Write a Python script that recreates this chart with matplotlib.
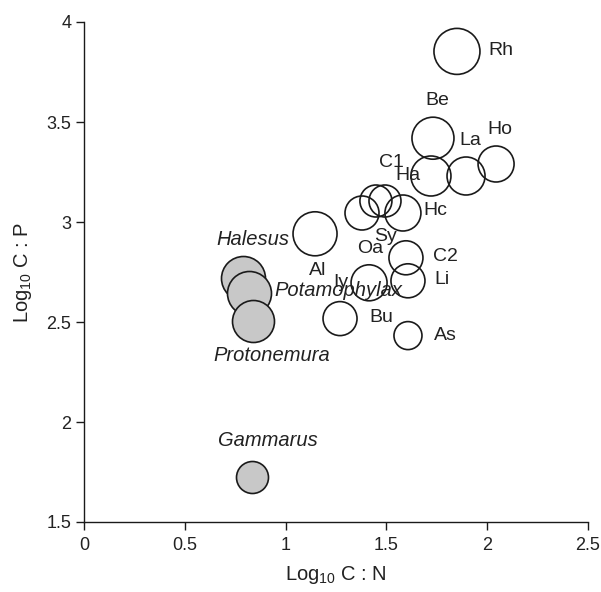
import matplotlib.pyplot as plt
import numpy as np

plt.rcParams["font.family"] = ["Liberation Sans", "DejaVu Sans"]
plt.rcParams["mathtext.fontset"] = "custom"
plt.rcParams["mathtext.rm"] = "Liberation Sans"

# taxa, log10 C:N, log10 C:P, bubble radius (px)
taxa = ["Rh", "Be", "Ha", "La", "Ho", "Oa", "C1", "Sy", "Hc", "Al",
        "C2", "Li", "Iy", "Bu", "As",
        "Halesus", "Potamophylax", "Protonemura", "Gammarus"]
log_cn = [1.850, 1.731, 1.721, 1.895, 2.044, 1.379, 1.448, 1.493, 1.582, 1.146,
          1.597, 1.607, 1.414, 1.270, 1.607,
          0.789, 0.818, 0.838, 0.833]
log_cp = [3.853, 3.419, 3.230, 3.230, 3.290, 3.045, 3.105, 3.105, 3.045, 2.941,
          2.821, 2.706, 2.696, 2.517, 2.432,
          2.721, 2.647, 2.507, 1.724]
radius = [23, 21, 20, 19, 18, 17, 16, 16, 18, 22,
          17, 17, 18, 17, 14,
          22, 22, 21, 16]
shredder = [False] * 15 + [True] * 4

# label offsets from bubble centre, pixels (x right, y up)
label_off = {
    "Rh": (44, 1), "Be": (4, 38), "Ha": (-23, 1), "La": (4, 36), "Ho": (4, 35),
    "Oa": (8, -35), "C1": (16, 39), "Sy": (1, -35), "Hc": (32, 3), "Al": (3, -37),
    "C2": (39, 1), "Li": (34, 1), "Iy": (-28, 0), "Bu": (41, 1), "As": (37, 0),
    "Halesus": (10, 38), "Potamophylax": (89, 2), "Protonemura": (19, -35),
    "Gammarus": (16, 37),
}

dpi = 100
fig = plt.figure(figsize=(6.01, 5.92), dpi=dpi)
ax = fig.add_axes([84 / 601, 70 / 592, 504 / 601, 500 / 592])

ink = "#1a1a1a"
sizes = (2 * np.array(radius) * 72 / dpi) ** 2
for i in range(len(taxa)):
    face = "#c8c8c8" if shredder[i] else "none"
    ax.scatter(log_cn[i], log_cp[i], s=sizes[i], facecolor=face,
               edgecolor=ink, linewidth=1.2, zorder=2 + i * 0.01)

for i, name in enumerate(taxa):
    dx, dy = label_off[name]
    ax.annotate(name, (log_cn[i], log_cp[i]), xytext=(dx, dy),
                textcoords="offset pixels", ha="center", va="center",
                fontsize=14.5 if shredder[i] else 14, color="#222222",
                style="italic" if shredder[i] else "normal", zorder=5)

ax.set_xlim(0, 2.5)
ax.set_ylim(1.5, 4)
ax.set_xticks([0, 0.5, 1, 1.5, 2, 2.5])
ax.set_xticklabels(["0", "0.5", "1", "1.5", "2", "2.5"])
ax.set_yticks([1.5, 2, 2.5, 3, 3.5, 4])
ax.set_yticklabels(["1.5", "2", "2.5", "3", "3.5", "4"])
ax.tick_params(direction="out", length=6, width=1, colors=ink,
               labelsize=13, labelcolor="#222222")
ax.tick_params(axis="x", pad=5)
ax.tick_params(axis="y", pad=3)
for side in ["top", "right"]:
    ax.spines[side].set_visible(False)
for side in ["left", "bottom"]:
    ax.spines[side].set_color(ink)
    ax.spines[side].set_linewidth(1)
    ax.spines[side].set_clip_on(False)

ax.set_xlabel("Log$_{10}$ C : N", fontsize=14.5, color="#222222", labelpad=7)
ax.set_ylabel("Log$_{10}$ C : P", fontsize=14.5, color="#222222", labelpad=9)

fig.savefig("out.png", dpi=dpi)
